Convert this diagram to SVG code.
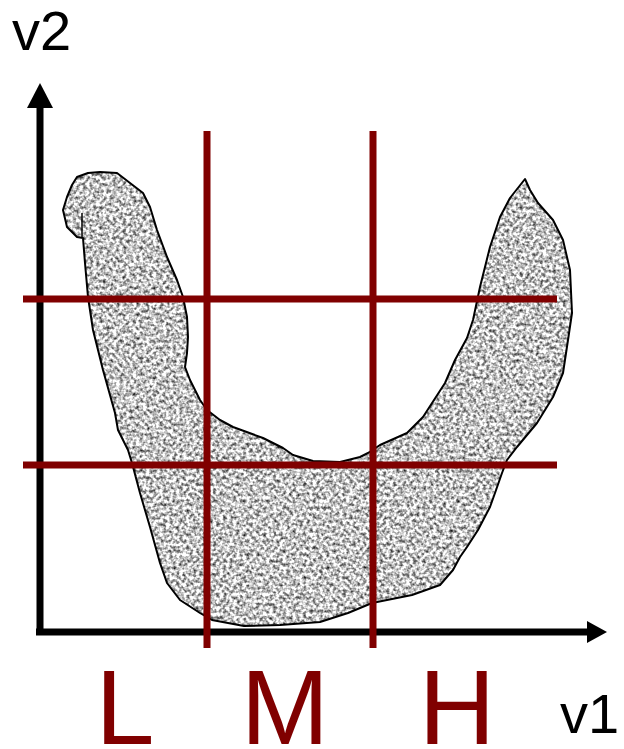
<svg xmlns="http://www.w3.org/2000/svg" width="624" height="749" viewBox="0 0 624 749">
<style>
.axis{stroke:#000;stroke-width:7;fill:none}
.grid{stroke:#800000;stroke-width:7;fill:none}
.lbl{font-family:"Liberation Sans",Arial,sans-serif;fill:#800000;font-size:106px;text-anchor:middle}
.var{font-family:"Liberation Sans",Arial,sans-serif;fill:#000;font-size:56px}
.outline{fill:none;stroke:#000;stroke-width:2;stroke-linejoin:round}
</style>
<defs>
<filter id="noise" filterUnits="userSpaceOnUse" x="0" y="0" width="624" height="749" color-interpolation-filters="sRGB">
<feTurbulence type="fractalNoise" baseFrequency="0.3" numOctaves="2" seed="7" result="t"/>
<feColorMatrix in="t" type="matrix" values="1.7 0 0 0 -0.08  1.7 0 0 0 -0.08  1.7 0 0 0 -0.08  0 0 0 0 1" result="g"/>
<feComposite in="g" in2="SourceGraphic" operator="in"/>
</filter>
<path id="blobShape" d="M77,177 L88,173 L100,172 L117,173 L130,183 L143,193 L150,207 L157,230 L167,257 L177,280 L183,297 L187,317 L188,337 L187,353 L185,367 L190,380 L200,400 L207,410 L220,420 L233,427 L263,438 L283,448 L293,455 L313,461 L340,462 L360,457 L368,453 L380,445 L407,433 L423,417 L445,383 L455,360 L467,338 L473,320 L480,287 L490,247 L500,217 L510,198 L525,179 L530,190 L538,203 L553,220 L563,240 L570,270 L572,313 L568,340 L563,373 L553,397 L537,423 L517,447 L507,460 L502,473 L495,493 L490,507 L478,530 L467,547 L460,557 L453,570 L440,585 L412,595 L372,603 L348,613 L320,622 L280,625 L244,626 L212,620 L200,613 L180,600 L167,583 L160,563 L150,527 L140,493 L132,463 L128,450 L118,430 L115,413 L103,370 L93,330 L88,297 L85,263 L83,238 L77,237 L67,227 L63,210 L67,197 L72,185 Z"/>
</defs>
<g id="axes">
<line class="axis" x1="40" y1="104" x2="40" y2="635"/>
<polygon points="40,83 27,108 53,108" fill="#000"/>
<line class="axis" x1="36" y1="632" x2="590" y2="632"/>
<polygon points="607,632 587,621 587,643" fill="#000"/>
</g>
<g id="blob">
<use href="#blobShape" fill="#000" filter="url(#noise)"/>
<use href="#blobShape" class="outline"/>
<line x1="82" y1="213" x2="82" y2="238" stroke="#000" stroke-width="1.5"/>
</g>
<g id="gridlines">
<line class="grid" x1="207" y1="131" x2="207" y2="648"/>
<line class="grid" x1="373" y1="131" x2="373" y2="648"/>
<line class="grid" x1="23" y1="299" x2="557" y2="299"/>
<line class="grid" x1="23" y1="465" x2="557" y2="465"/>
</g>
<g id="labels">
<text class="var" x="12" y="50">v2</text>
<text class="var" x="560" y="733">v1</text>
<text class="lbl" x="125" y="744">L</text>
<text class="lbl" x="285" y="744">M</text>
<text class="lbl" x="457" y="744">H</text>
</g>
</svg>
